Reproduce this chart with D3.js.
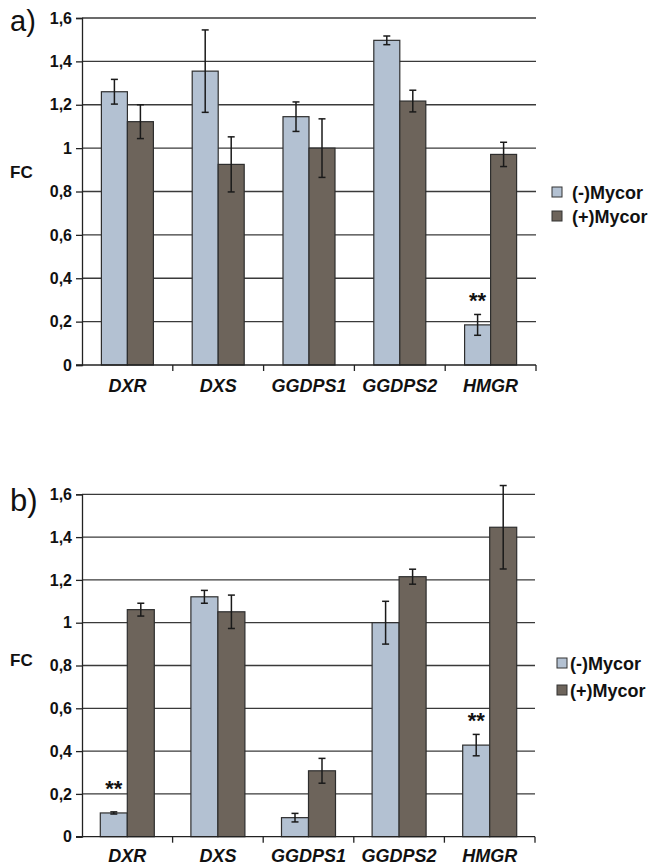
<!DOCTYPE html>
<html>
<head>
<meta charset="utf-8">
<script src="https://cdn.jsdelivr.net/npm/d3@7"></script>
<style>
  html, body { margin: 0; padding: 0; background: #fff; }
  svg { display: block; font-family: "Liberation Sans", Arial, sans-serif; }
</style>
</head>
<body>
<svg id="chart" width="651" height="868"></svg>
<script>
// ---------------- data ----------------
const categories = ["DXR", "DXS", "GGDPS1", "GGDPS2", "HMGR"];
const seriesNames = ["(-)Mycor", "(+)Mycor"];
const yTickValues = [0, 0.2, 0.4, 0.6, 0.8, 1, 1.2, 1.4, 1.6];
const yTickLabels = ["0", "0,2", "0,4", "0,6", "0,8", "1", "1,2", "1,4", "1,6"];

// panel a
const aMinus    = [1.26, 1.355, 1.145, 1.497, 0.185];
const aMinusErr = [0.057, 0.19, 0.068, 0.02, 0.048];
const aPlus     = [1.122, 0.925, 1.0, 1.217, 0.971];
const aPlusErr  = [0.078, 0.127, 0.135, 0.05, 0.056];
const aSig      = ["", "", "", "", "**"];

// panel b
const bMinus    = [0.111, 1.121, 0.089, 1.0, 0.428];
const bMinusErr = [0.005, 0.03, 0.02, 0.1, 0.05];
const bPlus     = [1.061, 1.051, 0.308, 1.215, 1.446];
const bPlusErr  = [0.03, 0.078, 0.058, 0.035, 0.195];
const bSig      = ["**", "", "", "", "**"];

const colors = ["#b3c1d2", "#6d645b"];

// ---------------- drawing ----------------
const svg = d3.select("#chart");

function drawPanel(opt) {
  const g = svg.append("g");
  const x0 = d3.scaleBand().domain(categories).range([opt.left, opt.right]).padding(0);
  const y = d3.scaleLinear().domain([0, 1.6]).range([opt.bottom, opt.top]);
  const groupW = opt.barW * 2;
  const x1 = d3.scaleBand().domain(seriesNames).range([0, groupW]).padding(0);
  const off = (x0.bandwidth() - groupW) / 2;

  // gridlines
  g.append("g").selectAll("line").data(yTickValues.filter(v => v > 0)).join("line")
    .attr("x1", opt.left).attr("x2", opt.right)
    .attr("y1", d => y(d)).attr("y2", d => y(d))
    .attr("stroke", "#3a3a3a").attr("stroke-width", 1.3);

  // y axis
  const yAxis = d3.axisLeft(y).tickValues(yTickValues)
    .tickFormat((d, i) => yTickLabels[i]).tickSize(6).tickPadding(4);
  const ya = g.append("g").attr("transform", `translate(${opt.left},0)`).call(yAxis);
  ya.select(".domain").attr("stroke", "#222").attr("stroke-width", 1.3);
  ya.selectAll(".tick line").attr("stroke", "#222").attr("stroke-width", 1.3);
  ya.selectAll(".tick text").attr("font-size", opt.tickFont).attr("font-weight", "bold")
    .attr("fill", "#111").attr("font-family", "Liberation Sans, Arial, sans-serif");

  // bars
  const series = [
    { name: seriesNames[0], vals: opt.minus, errs: opt.minusErr, sig: opt.sig, color: colors[0] },
    { name: seriesNames[1], vals: opt.plus, errs: opt.plusErr, sig: null, color: colors[1] }
  ];
  series.forEach(s => {
    const sg = g.append("g");
    sg.selectAll("rect").data(categories).join("rect")
      .attr("x", c => x0(c) + off + x1(s.name))
      .attr("y", (c, i) => y(s.vals[i]))
      .attr("width", x1.bandwidth())
      .attr("height", (c, i) => y(0) - y(s.vals[i]))
      .attr("fill", s.color)
      .attr("stroke", "#2e2e2e").attr("stroke-width", 1.2);
    // error bars
    const eg = sg.selectAll("g.err").data(categories).join("g").attr("class", "err");
    const cx = c => x0(c) + off + x1(s.name) + x1.bandwidth() / 2;
    eg.append("line")
      .attr("x1", cx).attr("x2", cx)
      .attr("y1", (c, i) => y(s.vals[i] + s.errs[i]))
      .attr("y2", (c, i) => y(s.vals[i] - s.errs[i]))
      .attr("stroke", "#1a1a1a").attr("stroke-width", 1.5);
    [1, -1].forEach(sgn => {
      eg.append("line")
        .attr("x1", c => cx(c) - 3.5).attr("x2", c => cx(c) + 3.5)
        .attr("y1", (c, i) => y(s.vals[i] + sgn * s.errs[i]))
        .attr("y2", (c, i) => y(s.vals[i] + sgn * s.errs[i]))
        .attr("stroke", "#1a1a1a").attr("stroke-width", 1.5);
    });
    if (s.sig) {
      sg.selectAll("text.sig").data(categories).join("text").attr("class", "sig")
        .attr("x", cx)
        .attr("y", (c, i) => y(s.vals[i]) - 17)
        .attr("text-anchor", "middle")
        .attr("font-size", 22).attr("font-weight", "bold").attr("fill", "#111")
        .text((c, i) => s.sig[i]);
    }
  });

  // x axis
  const xa = g.append("g");
  xa.append("line").attr("x1", opt.left - 6).attr("x2", opt.right)
    .attr("y1", y(0)).attr("y2", y(0)).attr("stroke", "#222").attr("stroke-width", 1.3);
  const bounds = categories.map(c => x0(c) + x0.bandwidth());
  xa.selectAll("line.xt").data(bounds).join("line").attr("class", "xt")
    .attr("x1", d => d).attr("x2", d => d)
    .attr("y1", y(0)).attr("y2", y(0) + 6)
    .attr("stroke", "#222").attr("stroke-width", 1.3);
  xa.selectAll("text").data(categories).join("text")
    .attr("x", c => x0(c) + x0.bandwidth() / 2)
    .attr("y", opt.labelY)
    .attr("text-anchor", "middle")
    .attr("font-size", 18).attr("font-weight", "bold").attr("font-style", "italic")
    .attr("fill", "#111")
    .text(c => c);

  // FC label
  g.append("text").attr("x", 10).attr("y", opt.fcY)
    .attr("font-size", 17).attr("font-weight", "bold").attr("fill", "#111").text("FC");

  // panel letter
  g.append("text").attr("x", 10).attr("y", opt.letterY)
    .attr("font-size", opt.letterFont).attr("fill", "#111").text(opt.letter);

  // legend
  const lg = g.append("g").attr("transform", `translate(${opt.legX},${opt.legY})`);
  seriesNames.forEach((n, i) => {
    const row = lg.append("g").attr("transform", `translate(0,${i * opt.legStep})`);
    row.append("rect").attr("x", 0).attr("y", -5).attr("width", 10).attr("height", 10)
      .attr("fill", colors[i]).attr("stroke", "#333").attr("stroke-width", 1);
    row.append("text").attr("x", opt.legTextDx).attr("y", 6.5)
      .attr("font-size", 18).attr("font-weight", "bold").attr("fill", "#111").text(n);
  });
}

drawPanel({
  letter: "a)", letterY: 31, letterFont: 29,
  left: 82, right: 536, top: 18, bottom: 365, barW: 26,
  minus: aMinus, minusErr: aMinusErr, plus: aPlus, plusErr: aPlusErr, sig: aSig,
  tickFont: 16, labelY: 392, fcY: 178,
  legX: 552, legY: 192, legStep: 24, legTextDx: 20
});

drawPanel({
  letter: "b)", letterY: 511, letterFont: 31,
  left: 82, right: 535, top: 494.3, bottom: 836.7, barW: 27,
  minus: bMinus, minusErr: bMinusErr, plus: bPlus, plusErr: bPlusErr, sig: bSig,
  tickFont: 16, labelY: 862, fcY: 666,
  legX: 557, legY: 663, legStep: 27, legTextDx: 13
});
</script>
</body>
</html>
